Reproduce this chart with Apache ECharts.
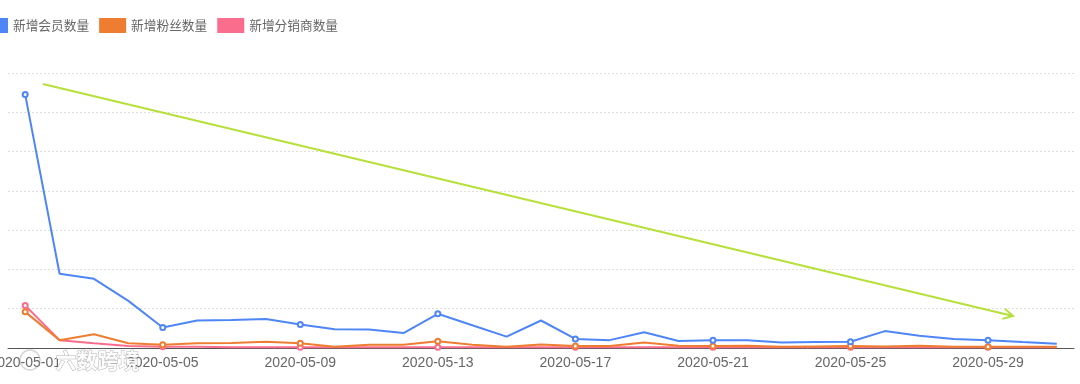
<!DOCTYPE html>
<html><head><meta charset="utf-8">
<script src="https://cdn.jsdelivr.net/npm/echarts@6/dist/echarts.min.js"></script>
<style>html,body{margin:0;padding:0;background:#fff}#c{width:1080px;height:384px}</style>
</head><body><div id="c"></div>
<script>
const categories = [];
for (let d = 1; d <= 31; d++) categories.push('2020-05-' + (d < 10 ? '0' + d : d));
const members = [645,189,176,120,52,70,71,74,60,48,47,38,87,58,29,70,23,20,40,18,20,20,14,15,16,43,31,23,20,15,11];
const fans    = [92,20,35,12,8,12,13,16,12,3,8,8,17,8,3,9,5,5,14,6,5,6,3,4,5,4,6,3,3,3,3];
const dealers = [108,20,12,5,3,3,2,2,2,2,2,2,2,2,2,2,2,2,2,2,2,2,2,2,2,2,2,2,2,2,2];
const seriesNames = ['新增会员数量','新增粉丝数量','新增分销商数量'];
const colors = ['#4f86f7','#ee7d32','#fb6d8c'];

const chart = echarts.init(document.getElementById('c'));
const mk = (name, data, color, z) => ({
  name, type: 'line', data, z,
  showAllSymbol: false, symbol: 'emptyCircle', symbolSize: 5,
  lineStyle: {width: 2, color}, itemStyle: {color}
});
const p0 = [43, 84], p1 = [1013, 316];
const ang = Math.atan2(p1[1]-p0[1], p1[0]-p0[0]);
const L = 11, spread = 0.5;
const w1 = [p1[0]-L*Math.cos(ang-spread), p1[1]-L*Math.sin(ang-spread)];
const w2 = [p1[0]-L*Math.cos(ang+spread), p1[1]-L*Math.sin(ang+spread)];
chart.setOption({
  animation: false,
  color: colors,
  legend: {
    left: -24, top: 13, itemWidth: 27, itemHeight: 15, itemGap: 10,
    icon: 'rect',
    textStyle: {fontSize: 12.7, color: '#666', fontFamily: 'Noto Sans CJK SC'}
  },
  grid: {left: 8, right: 6, top: 73, bottom: 36, containLabel: false, outerBoundsMode: 'none'},
  xAxis: {
    type: 'category', data: categories, boundaryGap: true,
    axisLine: {lineStyle: {color: '#555'}},
    axisTick: {show: false},
    axisLabel: {interval: 3, fontSize: 14, color: '#666', margin: 8, fontFamily: 'Liberation Sans'}
  },
  yAxis: {
    type: 'value', min: 0, max: 700, interval: 100,
    axisLine: {show: false}, axisTick: {show: false}, axisLabel: {show: false},
    splitLine: {lineStyle: {type: [2, 2], color: '#dedede'}}
  },
  series: [mk(seriesNames[0], members, colors[0], 3), mk(seriesNames[1], fans, colors[1], 2), mk(seriesNames[2], dealers, colors[2], 1)],
  graphic: [
    {type: 'line', shape: {x1: p0[0], y1: p0[1], x2: p1[0], y2: p1[1]}, style: {stroke: '#b6e03a', lineWidth: 2}, z: 10},
    {type: 'polyline', shape: {points: [w1, p1, w2]}, style: {stroke: '#b6e03a', lineWidth: 2, fill: null}, z: 10},
    {type: 'text', left: 55, top: 349, z: 20, style: {text: '六数跨境', font: 'bold 21px "Noto Sans CJK SC"', fill: 'rgba(255,255,255,0.9)', stroke: 'rgba(110,110,110,0.5)', lineWidth: 1}},
    {type: 'circle', shape: {cx: 30, cy: 360, r: 10}, style: {fill: 'none', stroke: 'rgba(150,150,150,0.4)', lineWidth: 1.5}, z: 20}
  ]
});
</script></body></html>
